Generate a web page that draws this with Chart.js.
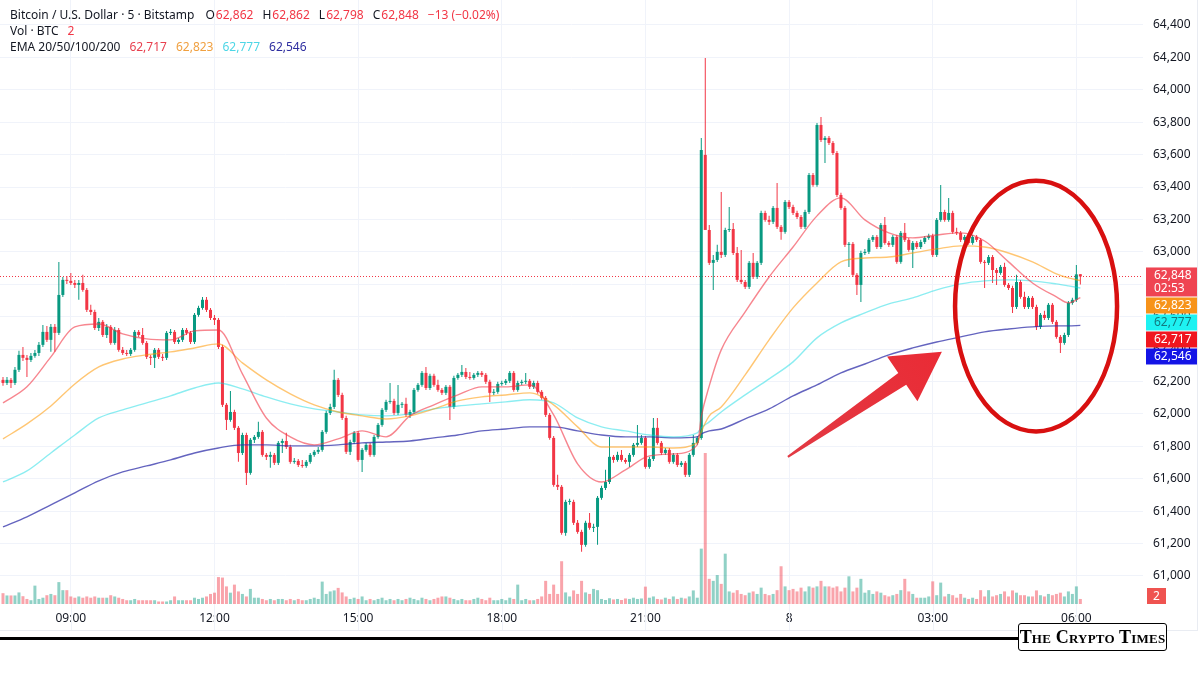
<!DOCTYPE html>
<html>
<head>
<meta charset="utf-8">
<script src="https://cdn.jsdelivr.net/npm/chart.js@4.4.1/dist/chart.umd.min.js"></script>
<style>
  body { margin: 0; background: #fff; }
  #wrap { position: relative; width: 1200px; height: 675px; overflow: hidden; }
  #canvas { position: absolute; left: 0; top: 0; }
  .legend { position: absolute; left: 10px; top: 7px; font: 12px 'Noto Sans', sans-serif; color: #131722; line-height: 15.8px; white-space: nowrap; }
  .legend .v { margin-left: 1px; }
  .legend .gap { margin-left: 9px; }
  .legend .first { margin-left: 11px; }
  .rule { position: absolute; left: 0; top: 637px; width: 1020px; height: 2.5px; background: #000; }
  .logo { position: absolute; left: 1018px; top: 623px; width: 147px; height: 26px; border: 1.5px solid #000; border-radius: 3px; background: #fff;
          font: bold 18px 'Liberation Serif', serif; font-variant: small-caps; text-align: center; line-height: 26px; color: #000; letter-spacing: 0.2px; }
</style>
</head>
<body>
<div id="wrap">
  <canvas id="canvas" width="1200" height="675"></canvas>
  <div class="legend" id="legend"></div>
  <div class="rule"></div>
  <div class="logo">The Crypto Times</div>
</div>
<script>
// 5-minute Bitstamp candles, index 0 = 07:35, last index 270 = 06:05 next day
const opens = [
  62210, 62191, 62210, 62191, 62272, 62364, 62346, 62333, 62358, 62376,
  62426, 62506, 62457, 62537, 62500, 62734, 62827, 62821, 62808, 62796,
  62808, 62765, 62642, 62629, 62530, 62568, 62487, 62537, 62438, 62518,
  62395, 62376, 62370, 62395, 62506, 62487, 62438, 62352, 62346, 62395,
  62352, 62346, 62500, 62506, 62444, 62457, 62518, 62500, 62444, 62611,
  62654, 62704, 62642, 62592, 62580, 62413, 62056, 61963, 62012, 61914,
  61759, 61870, 61636, 61840, 61858, 61889, 61747, 61735, 61747, 61698,
  61821, 61833, 61796, 61704, 61710, 61685, 61679, 61704, 61747, 61766,
  61778, 61889, 62006, 62043, 62210, 62117, 61975, 61766, 61827, 61883,
  61716, 61778, 61809, 61747, 61858, 61932, 62025, 62074, 62080, 62006,
  62056, 62062, 61994, 62012, 62148, 62179, 62253, 62160, 62235, 62179,
  62148, 62130, 62167, 62043, 62222, 62241, 62259, 62228, 62222, 62241,
  62253, 62241, 62198, 62130, 62136, 62185, 62191, 62204, 62253, 62148,
  62191, 62198, 62204, 62167, 62191, 62136, 62099, 61994, 61852, 61562,
  61550, 61266, 61457, 61457, 61328, 61272, 61192, 61328, 61297, 61303,
  61482, 61543, 61580, 61735, 61716, 61747, 61716, 61704, 61747, 61809,
  61821, 61852, 61673, 61722, 61914, 61821, 61759, 61778, 61704, 61747,
  61685, 61698, 61624, 61747, 61821, 61852, 63598, 63135, 62932, 62950,
  63000, 62981, 63135, 63141, 62993, 62827, 62814, 62784, 62932, 62845,
  62932, 63240, 63197, 63185, 63271, 63154, 63123, 63308, 63277, 63240,
  63215, 63154, 63246, 63474, 63413, 63783, 63690, 63703, 63672, 63610,
  63351, 63271, 63043, 63049, 62858, 62796, 62993, 63000, 63074, 63092,
  63030, 63166, 63055, 63043, 63092, 62938, 63117, 63074, 63012, 63055,
  63030, 63061, 63086, 63098, 62981, 63197, 63246, 63197, 63240, 63123,
  63117, 63074, 63092, 63055, 63092, 63074, 62938, 62932, 62968, 62888,
  62870, 62907, 62796, 62777, 62660, 62814, 62722, 62660, 62716, 62660,
  62537, 62611, 62592, 62673, 62568, 62475, 62438, 62487, 62685, 62704,
  62862
];
const highs = [
  62228, 62228, 62222, 62290, 62389, 62413, 62364, 62376, 62395, 62444,
  62549, 62543, 62555, 62555, 62938, 62845, 62851, 62870, 62827, 62827,
  62858, 62777, 62673, 62642, 62592, 62580, 62555, 62549, 62537, 62530,
  62413, 62395, 62407, 62518, 62518, 62530, 62450, 62364, 62407, 62407,
  62370, 62512, 62524, 62518, 62469, 62530, 62530, 62512, 62623, 62667,
  62722, 62722, 62654, 62611, 62592, 62426, 62068, 62142, 62025, 61926,
  61883, 61883, 61852, 61870, 61951, 61901, 61759, 61766, 61759, 61833,
  61846, 61883, 61809, 61728, 61722, 61716, 61716, 61759, 61778, 61796,
  61901, 62019, 62062, 62272, 62222, 62130, 61988, 61840, 61895, 61895,
  61790, 61821, 61821, 61870, 61944, 62037, 62087, 62191, 62093, 62179,
  62074, 62099, 62025, 62160, 62191, 62265, 62290, 62247, 62247, 62210,
  62160, 62179, 62179, 62235, 62253, 62302, 62284, 62259, 62253, 62265,
  62265, 62253, 62210, 62154, 62198, 62204, 62216, 62265, 62265, 62204,
  62210, 62253, 62216, 62204, 62204, 62148, 62111, 62006, 61864, 61624,
  61562, 61470, 61476, 61470, 61346, 61285, 61340, 61389, 61322, 61494,
  61556, 61655, 61858, 61747, 61766, 61778, 61728, 61759, 61821, 61932,
  61870, 61864, 61735, 61975, 61975, 61833, 61790, 61790, 61759, 61759,
  61710, 61710, 61759, 61870, 61864, 63703, 64196, 63166, 62981, 63043,
  63370, 63148, 63277, 63178, 63030, 63012, 62827, 62944, 62993, 62944,
  63253, 63253, 63222, 63283, 63425, 63166, 63320, 63320, 63290, 63253,
  63228, 63259, 63487, 63487, 63795, 63832, 63715, 63715, 63684, 63623,
  63364, 63283, 63061, 63061, 62870, 63006, 63018, 63086, 63104, 63104,
  63178, 63215, 63067, 63104, 63104, 63129, 63178, 63086, 63067, 63067,
  63074, 63098, 63111, 63111, 63209, 63413, 63259, 63333, 63253, 63148,
  63129, 63104, 63104, 63104, 63104, 63086, 62950, 62981, 62981, 62901,
  62919, 62932, 62808, 62790, 62858, 62827, 62753, 62728, 62728, 62673,
  62623, 62636, 62685, 62685, 62580, 62487, 62500, 62697, 62716, 62919,
  62862
];
const lows = [
  62173, 62179, 62160, 62179, 62259, 62327, 62228, 62321, 62346, 62358,
  62413, 62444, 62383, 62383, 62487, 62722, 62802, 62796, 62777, 62704,
  62753, 62629, 62611, 62518, 62512, 62475, 62469, 62426, 62426, 62383,
  62364, 62358, 62358, 62383, 62475, 62426, 62339, 62302, 62284, 62339,
  62327, 62333, 62487, 62432, 62432, 62444, 62487, 62432, 62432, 62599,
  62642, 62629, 62580, 62549, 62401, 62043, 61901, 61951, 61901, 61704,
  61747, 61562, 61624, 61821, 61846, 61735, 61716, 61667, 61685, 61685,
  61759, 61784, 61692, 61692, 61673, 61667, 61667, 61692, 61735, 61753,
  61766, 61877, 61994, 62031, 62105, 61963, 61753, 61747, 61815, 61704,
  61642, 61766, 61735, 61735, 61846, 61920, 62012, 62062, 61994, 61994,
  62037, 61981, 61975, 62000, 62136, 62167, 62148, 62148, 62167, 62136,
  62117, 62117, 61963, 62031, 62210, 62228, 62216, 62210, 62210, 62228,
  62228, 62185, 62074, 62117, 62124, 62173, 62179, 62191, 62136, 62136,
  62179, 62185, 62154, 62154, 62124, 62087, 61981, 61840, 61550, 61531,
  61254, 61248, 61439, 61315, 61260, 61149, 61180, 61285, 61272, 61192,
  61470, 61531, 61568, 61698, 61704, 61704, 61692, 61673, 61735, 61796,
  61809, 61661, 61661, 61710, 61809, 61747, 61747, 61692, 61692, 61673,
  61673, 61611, 61611, 61735, 61809, 61840, 63586, 62919, 62765, 62938,
  62962, 62968, 63123, 62981, 62814, 62802, 62771, 62771, 62833, 62833,
  62919, 63185, 63166, 63172, 63141, 63074, 63111, 63265, 63228, 63203,
  63141, 63141, 63234, 63401, 63401, 63678, 63548, 63660, 63598, 63339,
  63259, 63030, 62907, 62845, 62734, 62691, 62981, 62987, 63061, 63018,
  63018, 63043, 63030, 63030, 62926, 62926, 63061, 63000, 62901, 63018,
  63018, 63049, 63074, 62968, 62968, 63185, 63185, 63185, 63111, 63104,
  63061, 63061, 63043, 63043, 63061, 62926, 62777, 62919, 62808, 62796,
  62858, 62784, 62765, 62623, 62648, 62710, 62648, 62648, 62648, 62518,
  62524, 62580, 62580, 62555, 62463, 62376, 62426, 62475, 62673, 62691,
  62798
];
const closes = [
  62191, 62210, 62191, 62272, 62364, 62346, 62333, 62358, 62376, 62426,
  62506, 62457, 62537, 62500, 62734, 62827, 62821, 62808, 62796, 62808,
  62765, 62642, 62629, 62530, 62568, 62487, 62537, 62438, 62518, 62395,
  62376, 62370, 62395, 62506, 62487, 62438, 62352, 62346, 62395, 62352,
  62346, 62500, 62506, 62444, 62457, 62518, 62500, 62444, 62611, 62654,
  62704, 62642, 62592, 62580, 62413, 62056, 61963, 62012, 61914, 61759,
  61870, 61636, 61840, 61858, 61889, 61747, 61735, 61747, 61698, 61821,
  61833, 61796, 61704, 61710, 61685, 61679, 61704, 61747, 61766, 61778,
  61889, 62006, 62043, 62210, 62117, 61975, 61766, 61827, 61883, 61716,
  61778, 61809, 61747, 61858, 61932, 62025, 62074, 62080, 62006, 62056,
  62062, 61994, 62012, 62148, 62179, 62253, 62160, 62235, 62179, 62148,
  62130, 62167, 62043, 62222, 62241, 62259, 62228, 62222, 62241, 62253,
  62241, 62198, 62130, 62136, 62185, 62191, 62204, 62253, 62148, 62191,
  62198, 62204, 62167, 62191, 62136, 62099, 61994, 61852, 61562, 61550,
  61266, 61457, 61458, 61328, 61272, 61192, 61328, 61297, 61303, 61482,
  61543, 61580, 61735, 61716, 61747, 61716, 61704, 61747, 61809, 61821,
  61852, 61673, 61722, 61914, 61821, 61759, 61778, 61704, 61747, 61685,
  61698, 61624, 61747, 61821, 61852, 63629, 63135, 62932, 62950, 63000,
  62981, 63135, 63141, 62993, 62827, 62814, 62784, 62932, 62845, 62932,
  63240, 63197, 63185, 63271, 63154, 63123, 63308, 63277, 63240, 63215,
  63154, 63246, 63474, 63413, 63783, 63690, 63703, 63672, 63610, 63351,
  63271, 63043, 63049, 62858, 62796, 62993, 63000, 63074, 63092, 63030,
  63166, 63055, 63043, 63092, 62938, 63117, 63074, 63012, 63055, 63030,
  63061, 63086, 63098, 62981, 63197, 63246, 63197, 63240, 63123, 63117,
  63074, 63092, 63055, 63092, 63074, 62938, 62932, 62968, 62888, 62870,
  62907, 62796, 62777, 62660, 62814, 62722, 62660, 62716, 62660, 62537,
  62611, 62592, 62673, 62568, 62475, 62438, 62487, 62685, 62704, 62861,
  62848
];
// volume in BTC
const volumes = [
  4.3, 3.4, 3.4, 3.4, 4.6, 3.1, 2, 1.5, 7.3, 2,
  2.5, 3.5, 4, 3.5, 8.7, 5.5, 5.5, 3, 2.5, 3,
  2.5, 3, 2.5, 3, 2.5, 2.5, 2.5, 3.5, 3, 2.5,
  2, 1.5, 1.5, 2, 1.5, 1.5, 1.5, 1.5, 1.5, 1,
  1, 1, 1.5, 3, 1.5, 1.5, 1.5, 1.5, 2.5, 2,
  2.5, 3, 4, 4.5, 10.7, 10.5, 7, 4.5, 7.7, 5,
  4, 3, 6, 2.5, 2.5, 2, 1.5, 2, 1.5, 2,
  2, 1.5, 2, 1.5, 2, 1.5, 1.5, 2, 2.5, 2,
  8.9, 4, 5, 5.4, 6.4, 4.6, 3, 2, 2.5, 2,
  3, 1.5, 2, 1.5, 2, 2.5, 1.5, 2, 1.5, 2,
  1.5, 2, 2.5, 2, 1.5, 2.5, 2, 1.5, 2, 2.5,
  3, 3, 2.5, 2, 1.5, 2, 1.5, 1.5, 2, 2.5,
  2, 1.5, 2.5, 1.5, 1.5, 2, 1.5, 2.5, 2, 7.7,
  1.5, 2, 1.5, 1.5, 2, 3, 9.2, 4, 7.7, 4,
  17, 4.6, 3, 5.4, 4, 9.2, 4.6, 4, 6, 5.5,
  2, 1.6, 2.3, 1.8, 2, 1.6, 2.2, 2, 2.5, 2,
  2.2, 6.9, 2.5, 3, 2, 1.8, 2.5, 2, 3, 2,
  2.5, 2.2, 3, 5.4, 2.5, 22, 60, 10, 9.2, 11.5,
  8, 20, 5, 4.5, 5.5, 4, 3.5, 4.5, 5, 4,
  6.5, 4, 3.5, 4, 5.5, 15, 7, 5.5, 6, 5,
  6.5, 5, 7, 6.5, 7, 9.2, 7, 7, 6.5, 7,
  5, 6.5, 11, 5, 6.5, 10, 4.5, 5.5, 4, 5,
  4.5, 3.5, 3, 3.5, 4, 5.5, 10, 5, 4, 2.5,
  2.5, 2.5, 3, 9, 3.5, 8.5, 3, 4, 3.5, 2.5,
  4, 2.5, 2, 2.5, 2, 5.5, 3, 5.5, 3, 3.5,
  4, 5, 3, 5.4, 4.5, 3.5, 3.5, 3, 3, 5.4,
  3.5, 3, 4, 3.5, 4, 4.5, 3, 5, 4, 7,
  2
];

// EMA readings at these candle indexes
const emaIdx = [0, 6, 12, 18, 24, 30, 36, 42, 48, 54, 60, 66, 72, 78, 84, 90, 96, 102, 108, 114,
  120, 126, 132, 138, 144, 150, 156, 162, 168, 174, 175, 177, 180, 186, 192, 198, 204, 210, 216, 222,
  228, 234, 240, 246, 252, 258, 264, 267, 270];
const ema20 = [
  62068, 62167, 62352, 62537, 62555, 62494, 62463, 62457, 62512, 62518,
  62247, 61975, 61858, 61809, 61846, 61895, 61858, 61988, 62056, 62117,
  62167, 62167, 62179, 61994, 61692, 61580, 61655, 61741, 61753, 61809,
  61981, 62173, 62395, 62629, 62845, 63030, 63222, 63333, 63197, 63117,
  63086, 63104, 63117, 63067, 62938, 62808, 62722, 62685, 62717
];
const ema50 = [
  61846, 61938, 62049, 62185, 62290, 62339, 62364, 62383, 62407, 62432,
  62315, 62210, 62124, 62056, 62012, 61988, 61969, 61988, 62031, 62080,
  62105, 62117, 62130, 62056, 61920, 61796, 61796, 61796, 61790, 61821,
  61889, 61988, 62043, 62241, 62457, 62654, 62808, 62938, 62962, 62968,
  62993, 63018, 63037, 63030, 62993, 62938, 62864, 62839, 62823
];
const ema100 = [
  61580, 61648, 61759, 61870, 61975, 62025, 62068, 62111, 62160, 62191,
  62154, 62105, 62062, 62031, 62012, 61994, 61988, 62000, 62031, 62049,
  62062, 62074, 62087, 62068, 61975, 61920, 61895, 61870, 61858, 61883,
  61914, 61951, 62012, 62117, 62216, 62321, 62469, 62561, 62623, 62679,
  62716, 62765, 62802, 62821, 62827, 62821, 62802, 62790, 62777
];
const ema200 = [
  61303, 61365, 61439, 61513, 61587, 61642, 61679, 61716, 61759, 61790,
  61809, 61809, 61803, 61803, 61809, 61821, 61827, 61833, 61852, 61870,
  61895, 61907, 61920, 61920, 61895, 61870, 61858, 61858, 61852, 61858,
  61877, 61895, 61907, 61969, 62031, 62111, 62179, 62253, 62308, 62364,
  62407, 62444, 62475, 62506, 62524, 62537, 62543, 62543, 62546
];

const tickIdx = [17, 53, 89, 125, 161, 197, 233, 269];
const tickLabels = ['09:00', '12:00', '15:00', '18:00', '21:00', '8', '03:00', '06:00'];
const priceTicks = [61000, 61200, 61400, 61600, 61800, 62000, 62200, 62400, 62600, 62800,
  63000, 63200, 63400, 63600, 63800, 64000, 64200, 64400];
const countdown = '02:53';

const UP = '#089981', DOWN = '#f23645';
const fmt = v => Math.round(v).toLocaleString('en-US');
const last = closes.length - 1;
const upDown = closes.map((c, i) => c >= opens[i]);
const candleColors = upDown.map(u => u ? UP : DOWN);
const volColors = upDown.map(u => u ? 'rgba(8,153,129,0.45)' : 'rgba(242,54,69,0.45)');

const emaSets = [
  { label: 'EMA 20', vals: ema20, color: 'rgba(242,54,69,0.6)', box: '#f0161f', text: '#fff', leg: '#e8404f' },
  { label: 'EMA 50', vals: ema50, color: 'rgba(255,152,0,0.55)', box: '#f7931a', text: '#fff', leg: '#f0a040' },
  { label: 'EMA 100', vals: ema100, color: 'rgba(0,214,224,0.45)', box: '#1ef2f2', text: '#137a80', leg: '#4dd6e6' },
  { label: 'EMA 200', vals: ema200, color: 'rgba(48,48,170,0.75)', box: '#1414e6', text: '#fff', leg: '#2e2ea0' }
];

// legend text
const chg = closes[last] - closes[last - 1];
const red = '#f23645';
document.getElementById('legend').innerHTML =
  'Bitcoin / U.S. Dollar · 5 · Bitstamp' +
  '<span class="first">O</span><span class="v" style="color:' + red + '">' + fmt(opens[last]) + '</span>' +
  '<span class="gap">H</span><span class="v" style="color:' + red + '">' + fmt(highs[last]) + '</span>' +
  '<span class="gap">L</span><span class="v" style="color:' + red + '">' + fmt(lows[last]) + '</span>' +
  '<span class="gap">C</span><span class="v" style="color:' + red + '">' + fmt(closes[last]) + '</span>' +
  '<span class="gap" style="color:' + red + '">−' + Math.abs(chg) + ' (−' + Math.abs(chg / closes[last - 1] * 100).toFixed(2) + '%)</span>' +
  '<br>Vol · BTC<span class="gap" style="color:' + red + '">' + fmt(volumes[last]) + '</span>' +
  '<br>EMA 20/50/100/200' + emaSets.map(e => '<span class="gap" style="color:' + e.leg + '">' + fmt(e.vals[e.vals.length - 1]) + '</span>').join('');

const overlay = {
  id: 'overlay',
  beforeDatasetsDraw(chart) {
    const { ctx, chartArea: a, scales } = chart;
    const y = scales.y.getPixelForValue(closes[last]);
    ctx.save();
    ctx.strokeStyle = DOWN;
    ctx.lineWidth = 1;
    ctx.setLineDash([1, 2]);
    ctx.beginPath();
    ctx.moveTo(a.left, Math.round(y) + 0.5);
    ctx.lineTo(a.right, Math.round(y) + 0.5);
    ctx.stroke();
    ctx.restore();
  },
  afterDraw(chart) {
    const { ctx, chartArea: a, scales } = chart;
    const xs = scales.x, ys = scales.y;
    ctx.save();

    // vertical grid continued through the time labels, frame borders
    ctx.strokeStyle = '#f0f3fa';
    ctx.lineWidth = 1;
    tickIdx.forEach(t => {
      const px = Math.round(xs.getPixelForValue(t)) + 0.5;
      ctx.beginPath(); ctx.moveTo(px, a.bottom); ctx.lineTo(px, 630); ctx.stroke();
    });
    ctx.strokeStyle = '#e9ecf2';
    ctx.beginPath(); ctx.moveTo(0, 630.5); ctx.lineTo(1198, 630.5); ctx.stroke();
    ctx.beginPath(); ctx.moveTo(1197.5, 0); ctx.lineTo(1197.5, 630); ctx.stroke();

    // red arrow pointing to the circled area
    const tx = xs.getPixelForValue(196.7), ty = ys.getPixelForValue(61735);
    const hx = xs.getPixelForValue(235.3), hy = ys.getPixelForValue(62383);
    const dx = hx - tx, dy = hy - ty, L = Math.hypot(dx, dy);
    const ux = dx / L, uy = dy / L, nx = -uy, ny = ux;
    const bx = hx - ux * 48, by = hy - uy * 48;
    const g = ctx.createLinearGradient(tx, ty, hx, hy);
    g.addColorStop(0, '#e23a44');
    g.addColorStop(1, '#ea2b35');
    ctx.fillStyle = g;
    ctx.beginPath();
    ctx.moveTo(tx + nx * 1, ty + ny * 1);
    ctx.lineTo(bx + nx * 7, by + ny * 7);
    ctx.lineTo(bx + nx * 27, by + ny * 27);
    ctx.lineTo(hx, hy);
    ctx.lineTo(bx - nx * 27, by - ny * 27);
    ctx.lineTo(bx - nx * 7, by - ny * 7);
    ctx.lineTo(tx - nx * 1, ty - ny * 1);
    ctx.closePath();
    ctx.fill();

    // red ellipse around the last hours
    const cx = xs.getPixelForValue(258.9), cy = ys.getPixelForValue(62665);
    const rx = xs.getPixelForValue(279.2) - cx, ry = cy - ys.getPixelForValue(63438);
    ctx.strokeStyle = '#d81010';
    ctx.lineWidth = 4.5;
    ctx.beginPath();
    ctx.ellipse(cx, cy, rx, ry, 0, 0, Math.PI * 2);
    ctx.stroke();

    // price labels on the right scale
    ctx.font = '12px "Noto Sans", sans-serif';
    ctx.textBaseline = 'middle';
    const bl = a.right + 3, bw = 51;
    const lastY = ys.getPixelForValue(closes[last]);
    let top = lastY - 9;
    ctx.fillStyle = '#ef4452';
    ctx.fillRect(bl, top, bw, 29);
    ctx.fillStyle = '#fff';
    ctx.fillText(fmt(closes[last]), bl + 8, top + 8);
    ctx.fillText(countdown, bl + 8, top + 21);
    let bottom = top + 29;
    emaSets.map(e => ({ e, v: e.vals[e.vals.length - 1] }))
      .sort((p, q) => q.v - p.v)
      .forEach(({ e, v }) => {
        const py = ys.getPixelForValue(v);
        const t = Math.max(py - 8, bottom + 1);
        ctx.fillStyle = e.box;
        ctx.fillRect(bl, t, bw, 16);
        ctx.fillStyle = e.text;
        ctx.fillText(fmt(v), bl + 8, t + 8.5);
        bottom = t + 16;
      });

    // volume label
    const vy = Math.min(scales.yVol.getPixelForValue(volumes[last]), a.bottom - 8);
    ctx.fillStyle = '#ef5350';
    ctx.fillRect(bl + 1, vy - 8, 19, 16);
    ctx.fillStyle = '#fff';
    ctx.textAlign = 'center';
    ctx.fillText(fmt(volumes[last]), bl + 10.5, vy + 0.5);
    ctx.restore();
  }
};

const idx = closes.map((c, i) => i);

const config = {
  type: 'bar',
  data: {
    datasets: [
      ...emaSets.map((e, k) => ({
        type: 'line',
        label: e.label,
        data: emaIdx.map((x, j) => ({ x: x, y: e.vals[j] })),
        borderColor: e.color,
        borderWidth: 1.4,
        pointRadius: 0,
        cubicInterpolationMode: 'monotone',
        yAxisID: 'y',
        order: 1 + k
      })),
      {
        label: 'Bodies',
        data: idx.map(i => ({ x: i, y: [opens[i], closes[i]] })),
        backgroundColor: candleColors,
        barThickness: 3,
        minBarLength: 1,
        grouped: false,
        inflateAmount: 0,
        yAxisID: 'y',
        order: 6
      },
      {
        label: 'Wicks',
        data: idx.map(i => ({ x: i, y: [lows[i], highs[i]] })),
        backgroundColor: candleColors,
        barThickness: 1,
        grouped: false,
        inflateAmount: 0,
        yAxisID: 'y',
        order: 7
      },
      {
        label: 'Vol · BTC',
        data: idx.map(i => ({ x: i, y: volumes[i] })),
        backgroundColor: volColors,
        barThickness: 3,
        grouped: false,
        inflateAmount: 0,
        yAxisID: 'yVol',
        order: 10
      }
    ]
  },
  options: {
    responsive: false,
    animation: false,
    devicePixelRatio: 1,
    layout: { padding: { left: 0, top: 0, right: 0, bottom: 45 } },
    plugins: { legend: { display: false }, tooltip: { enabled: false } },
    scales: {
      x: {
        type: 'linear',
        min: -0.75,
        max: 285.7,
        offset: false,
        grid: { color: '#f0f3fa', drawTicks: false, offset: false },
        border: { display: false },
        afterBuildTicks: s => { s.ticks = tickIdx.map(v => ({ value: v })); },
        afterFit: s => { s.height = 26; s.paddingLeft = 0; s.paddingRight = 0; },
        ticks: {
          autoSkip: false,
          maxRotation: 0,
          padding: 7,
          color: '#131722',
          font: { family: 'Noto Sans', size: 12 },
          callback: v => tickLabels[tickIdx.indexOf(v)]
        }
      },
      y: {
        type: 'linear',
        position: 'right',
        min: 60827,
        max: 64554,
        grid: { color: '#f0f3fa', drawTicks: false },
        border: { display: false },
        afterBuildTicks: s => { s.ticks = priceTicks.map(v => ({ value: v })); },
        afterFit: s => { s.width = 57; s.paddingTop = 0; s.paddingBottom = 0; },
        ticks: {
          padding: 10,
          color: '#131722',
          font: { family: 'Noto Sans', size: 12 },
          callback: v => fmt(v)
        }
      },
      yVol: {
        type: 'linear',
        display: false,
        min: 0,
        max: 240,
        afterFit: s => { s.paddingTop = 0; s.paddingBottom = 0; }
      }
    }
  },
  plugins: [overlay]
};

new Chart(document.getElementById('canvas').getContext('2d'), config);
</script>
</body>
</html>
